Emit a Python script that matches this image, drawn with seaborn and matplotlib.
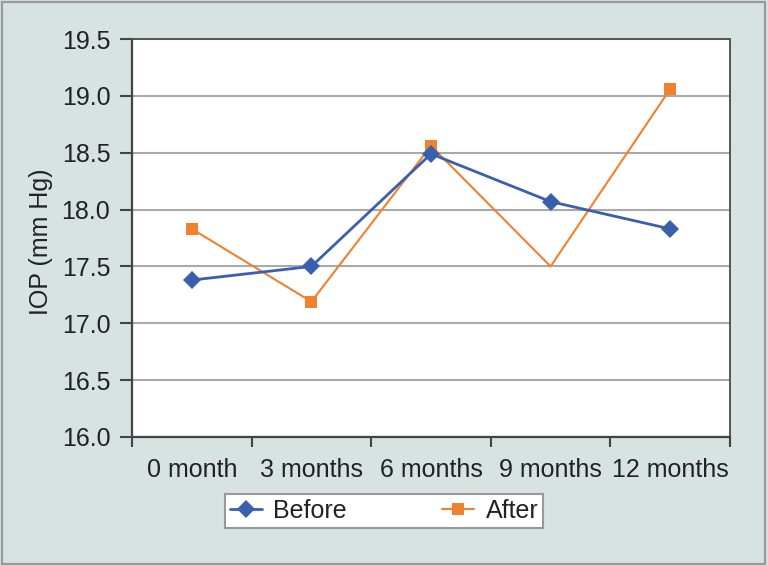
import matplotlib
matplotlib.use("Agg")
import matplotlib.pyplot as plt
import seaborn as sns
import pandas as pd
from matplotlib.patches import Rectangle

categories = ["0 month", "3 months", "6 months", "9 months", "12 months"]
before = [17.38, 17.50, 18.49, 18.07, 17.83]
after = [17.83, 17.19, 18.56, 17.50, 19.06]
yticks = [16.0, 16.5, 17.0, 17.5, 18.0, 18.5, 19.0, 19.5]

df = pd.DataFrame({
    "Time": categories * 2,
    "IOP": before + after,
    "Group": ["Before"] * len(categories) + ["After"] * len(categories),
})

sns.set_theme(style="white")
plt.rcParams["font.family"] = ["Liberation Sans", "DejaVu Sans"]

bg = "#d7e3e1"
blue = "#3a5fad"
orange = "#f0812e"
fs = 18

fig = plt.figure(figsize=(7.68, 5.65), dpi=100, facecolor=bg)
ax = fig.add_axes([132 / 768, 1 - 437 / 565, (730 - 132) / 768, (437 - 39) / 565])
ax.set_facecolor("white")

sns.lineplot(data=df[df.Group == "After"], x="Time", y="IOP", color=orange,
             marker="s", markersize=8.5, markeredgewidth=0, linewidth=1.5,
             markevery=[0, 1, 2, 4],
             label="After", ax=ax, sort=False)
sns.lineplot(data=df[df.Group == "Before"], x="Time", y="IOP", color=blue,
             marker="D", markersize=9.5, markeredgewidth=0, linewidth=2.0,
             label="Before", ax=ax, sort=False)

ax.set_xlim(-0.5, len(categories) - 0.5)
ax.set_ylim(16.0, 19.5)
ax.set_yticks(yticks)
ax.set_yticklabels([f"{v:.1f}" for v in yticks], fontsize=fs, color="#222222")
ax.yaxis.grid(True, color="#a9a9a9", linewidth=1.5)
ax.xaxis.grid(False)

ax.set_xticks(range(len(categories)))
ax.set_xticklabels(categories, fontsize=fs, color="#222222")
ax.tick_params(axis="x", which="major", length=0, pad=15)
ax.set_xticks([i - 0.5 for i in range(len(categories) + 1)], minor=True)
ax.tick_params(axis="x", which="minor", length=7.5, width=1.5, color="#444444",
               direction="out", bottom=True)
ax.tick_params(axis="y", length=8.6, width=1.5, color="#444444", direction="out",
               left=True, pad=7)

ax.set_xlabel("")
ax.set_ylabel("IOP (mm Hg)", fontsize=fs, color="#222222")
ax.yaxis.set_label_coords((53 - 132) / 598, 0.49)

for side in ["left", "bottom"]:
    ax.spines[side].set_color("#444444")
    ax.spines[side].set_linewidth(1.6)
for side in ["top", "right"]:
    ax.spines[side].set_color("#555555")
    ax.spines[side].set_linewidth(1.4)

handles, labels = ax.get_legend_handles_labels()
order = [labels.index("Before"), labels.index("After")]
if ax.legend_:
    ax.legend_.remove()
leg = fig.legend([handles[i] for i in order], [labels[i] for i in order],
                 loc="center", bbox_to_anchor=(384 / 768, 1 - 511 / 565),
                 ncol=2, fontsize=fs, frameon=True, fancybox=False,
                 edgecolor="#999999", facecolor="white", framealpha=1,
                 handlelength=1.3, handletextpad=0.45, columnspacing=3.8,
                 borderpad=0.2, borderaxespad=0)
leg.get_frame().set_linewidth(1.5)
for t in leg.get_texts():
    t.set_color("#222222")

fig.patches.append(Rectangle((0.002, 0.002), 0.994, 0.994, transform=fig.transFigure,
                             fill=False, edgecolor="#9a9a9a", linewidth=1.6))

fig.savefig("out.png", dpi=100, facecolor=bg)
